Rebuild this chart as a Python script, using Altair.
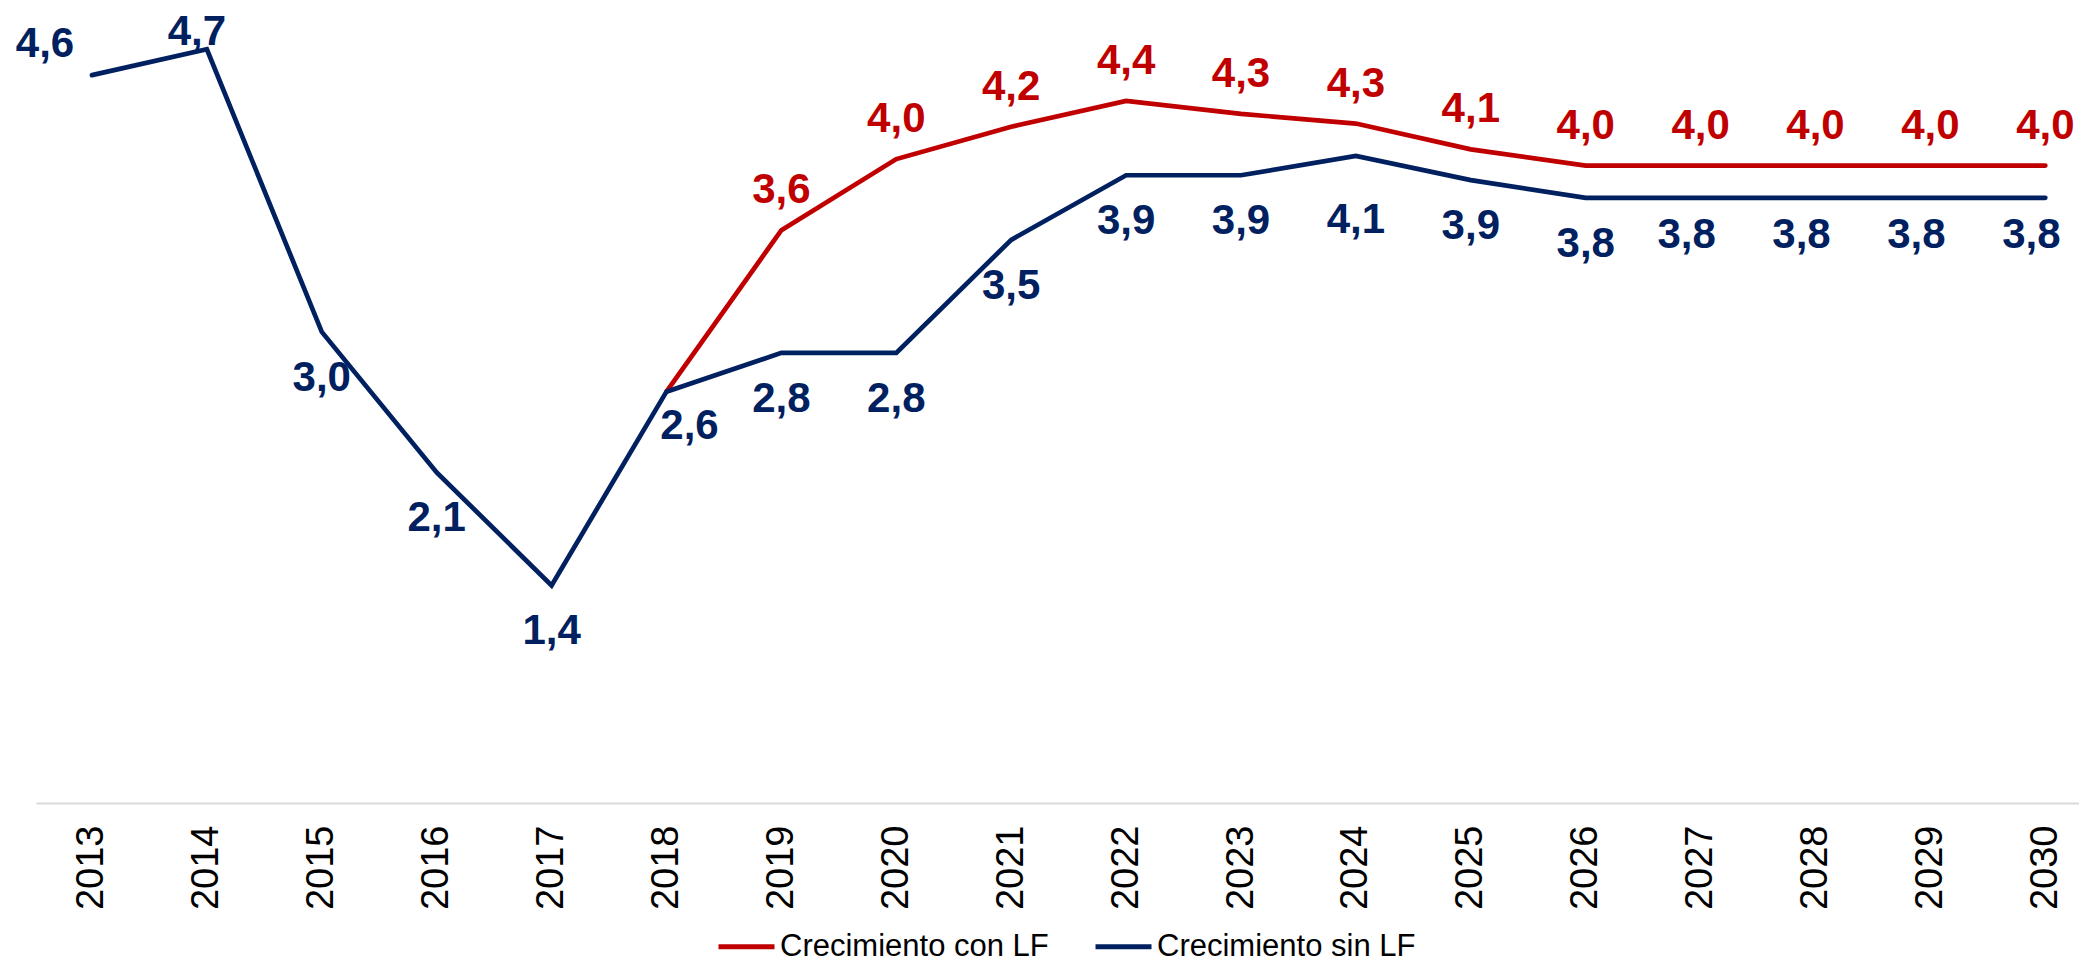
import altair as alt
import pandas as pd

# ---- data ----
years_sin = list(range(2013, 2031))
sin_lf = [4.56, 4.72, 2.97, 2.10, 1.40, 2.60, 2.84, 2.84, 3.54, 3.94, 3.94, 4.06,
          3.91, 3.80, 3.80, 3.80, 3.80, 3.80]
years_con = list(range(2018, 2031))
con_lf = [2.60, 3.60, 4.04, 4.24, 4.40, 4.32, 4.26, 4.10, 4.00, 4.00, 4.00, 4.00, 4.00]
series_names = ["Crecimiento con LF", "Crecimiento sin LF"]
series_colors = ["#C00000", "#002060"]
tick_years = list(range(2013, 2031))


def fmt(v):
    return f"{v:.1f}".replace(".", ",")


df_sin = pd.DataFrame({"year": years_sin, "value": sin_lf,
                       "serie": series_names[1],
                       "label": [fmt(v) for v in sin_lf]})
df_con = pd.DataFrame({"year": years_con, "value": con_lf,
                       "serie": series_names[0],
                       "label": [fmt(v) for v in con_lf]})

x_enc = alt.X("year:Q",
              scale=alt.Scale(domain=[2012.513, 2030.293], nice=False, zero=False),
              axis=alt.Axis(values=tick_years, format="d", title=None, labelAngle=270,
                            labelAlign="right", labelBaseline="middle",
                            labelFontSize=38, labelFont="Liberation Sans",
                            labelColor="black", labelPadding=22, ticks=False,
                            grid=False, domainColor="#d9d9d9", domainWidth=2,
                            labelOverlap=False, labelFlush=False))
y_enc = alt.Y("value:Q",
              scale=alt.Scale(domain=[0.053, 4.926], nice=False, zero=False),
              axis=None)

color_enc = alt.Color(
    "serie:N",
    scale=alt.Scale(domain=series_names, range=series_colors),
    legend=alt.Legend(orient="none", legendX=680, legendY=900, direction="horizontal",
                      symbolType="stroke", symbolSize=3136, symbolStrokeWidth=5,
                      labelFontSize=31, labelFont="Liberation Sans", labelColor="black",
                      labelOffset=3, columnPadding=36, labelLimit=400, title=None),
)

line_con = alt.Chart(df_con).mark_line(strokeWidth=4.7, strokeCap="round").encode(
    x=x_enc, y=y_enc, color=color_enc)
line_sin = alt.Chart(df_sin).mark_line(strokeWidth=4.7, strokeCap="round").encode(
    x=x_enc, y=y_enc, color=color_enc)

text_style = dict(font="Liberation Sans", fontSize=42, fontWeight="bold",
                  align="center", baseline="middle")

txt_con = alt.Chart(df_con).transform_filter(
    alt.datum.year >= 2019
).mark_text(color=series_colors[0], dy=-40, **text_style).encode(
    x=x_enc, y=y_enc, text="label:N")


def blue_labels(years, dx, dy):
    return alt.Chart(df_sin).transform_filter(
        alt.FieldOneOfPredicate(field="year", oneOf=years)
    ).mark_text(color=series_colors[1], dx=dx, dy=dy, **text_style).encode(
        x=x_enc, y=y_enc, text="label:N")


txt_sin = [
    blue_labels([2013], -47, -31),
    blue_labels([2014], -10, -17),
    blue_labels([2018], 23, 34),
    blue_labels([2024], 0, 64),
    blue_labels([2027, 2028, 2029, 2030], -14, 37),
    blue_labels([2015, 2016, 2017, 2019, 2020, 2021, 2022, 2023, 2025, 2026], 0, 46),
]

chart = alt.layer(line_con, line_sin, txt_con, *txt_sin).properties(
    width=2043, height=787,
    autosize=alt.AutoSizeParams(type="none"),
    padding={"left": 28, "top": 8, "right": 0, "bottom": 161},
).configure(
    background="white",
    view=alt.ViewConfig(stroke="transparent", strokeWidth=0),
)

chart.save("out.html", embed_options={"renderer": "svg", "actions": False})
